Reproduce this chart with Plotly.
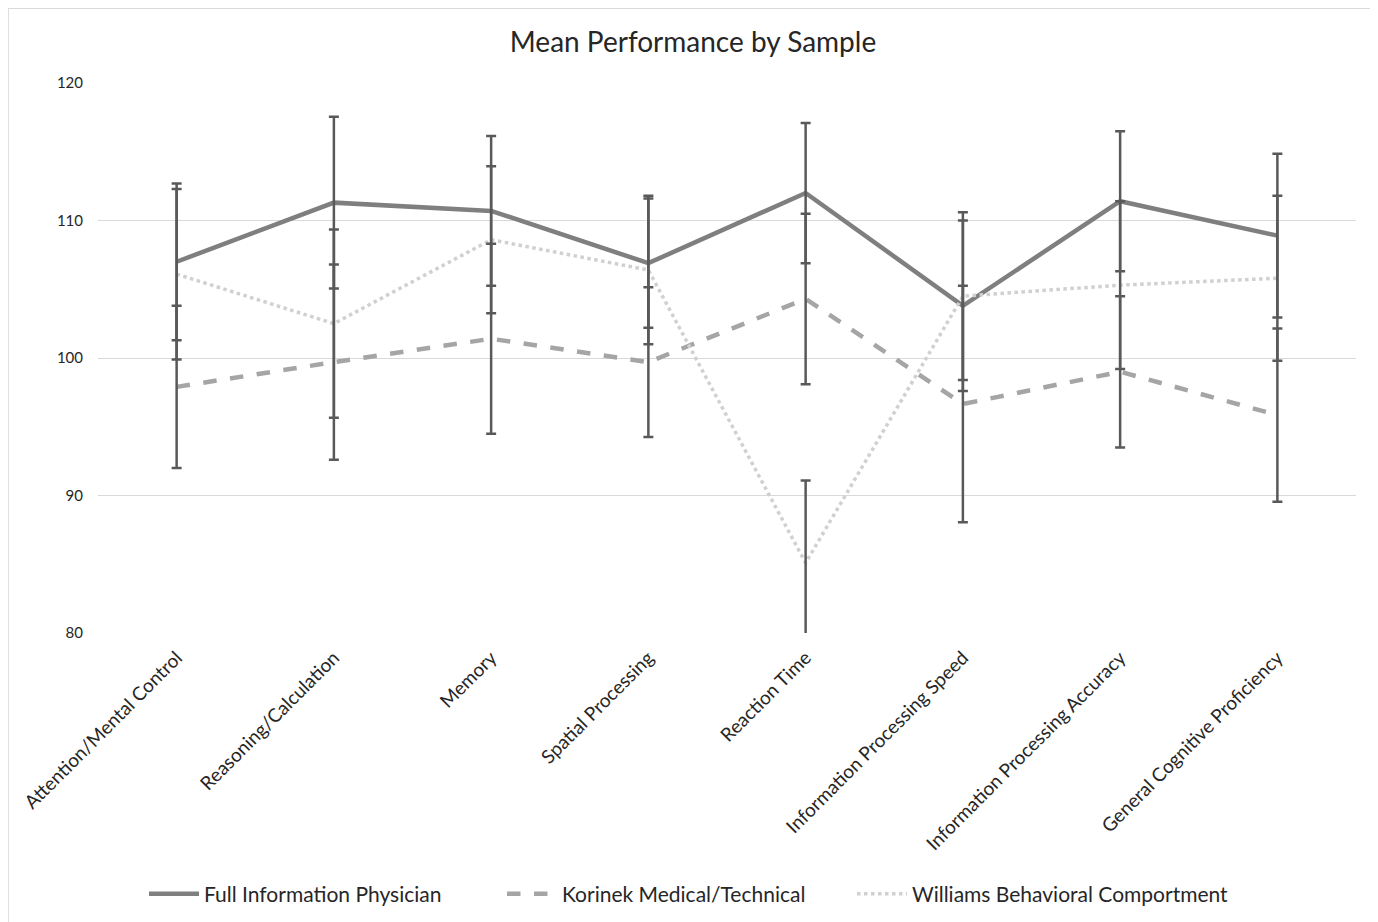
import plotly.graph_objects as go

categories = ["Attention/Mental Control", "Reasoning/Calculation", "Memory",
              "Spatial Processing", "Reaction Time", "Information Processing Speed",
              "Information Processing Accuracy", "General Cognitive Proficiency"]

full_mean = [107.0, 111.3, 110.7, 106.9, 112.0, 103.8, 111.4, 108.9]
full_err = [5.7, 6.25, 5.45, 4.7, 5.1, 6.2, 5.1, 5.95]

korinek_mean = [97.9, 99.7, 101.4, 99.7, 104.3, 96.65, 99.0, 95.85]
korinek_err = [5.9, 7.1, 6.9, 5.45, 6.2, 8.6, 5.5, 6.3]

williams_mean = [106.1, 102.5, 108.6, 106.4, 85.1, 104.5, 105.3, 105.8]
williams_err = [6.2, 6.85, 5.35, 5.4, 6.0, 6.1, 6.1, 6.0]

series = [
    ("Full Information Physician", full_mean, full_err, "#7f7f7f", "solid", 4.5, "legend"),
    ("Korinek Medical/Technical", korinek_mean, korinek_err, "#a5a5a5", "dash", 4.5, "legend2"),
    ("Williams Behavioral Comportment", williams_mean, williams_err, "#d0d0d0", "dot", 3.5, "legend3"),
]

FONT = "Lato, Carlito, 'Open Sans', sans-serif"

fig = go.Figure()
for name, mean, err, color, dash, w, lg in series:
    fig.add_trace(go.Scatter(
        x=categories, y=mean, name=name, mode="lines",
        line=dict(color=color, width=w, dash=dash),
        cliponaxis=True, legend=lg,
    ))
for name, mean, err, color, dash, w, lg in series:
    fig.add_trace(go.Scatter(
        x=categories, y=mean, mode="markers", showlegend=False,
        marker=dict(size=1, color="rgba(0,0,0,0)"),
        error_y=dict(type="data", array=err, visible=True,
                     color="#595959", thickness=2.5, width=5),
        hoverinfo="skip",
    ))

W, H = 1370, 914


def leg(xpx):
    return dict(orientation="h", xref="container", yref="container",
                x=xpx / W, xanchor="left", y=1 - 886 / H, yanchor="middle",
                font=dict(size=21, color="#262626", family=FONT),
                itemwidth=50, bgcolor="rgba(0,0,0,0)")


fig.update_layout(
    width=W, height=H,
    paper_bgcolor="white", plot_bgcolor="white",
    margin=dict(l=90, r=22, t=75, b=289),
    font=dict(family=FONT, color="#262626"),
    title=dict(text="Mean Performance by Sample", x=0.5, xanchor="center",
               y=1 - 34 / H, yanchor="middle",
               font=dict(size=28, color="#262626", family=FONT)),
    showlegend=True,
    legend=leg(136), legend2=leg(494), legend3=leg(844),
    xaxis=dict(type="category", showgrid=False, showline=False, zeroline=False,
               tickangle=-45, tickfont=dict(size=19, color="#262626"),
               ticks="", range=[-0.5, 7.5], ticklabelstandoff=9, automargin=False),
    yaxis=dict(range=[80, 120], dtick=10, showgrid=True, gridcolor="#d9d9d9",
               gridwidth=1, zeroline=False, showline=False,
               tickfont=dict(size=15, color="#262626"), ticks="",
               ticklabelstandoff=14, automargin=False),
    shapes=[dict(type="rect", xref="paper", yref="paper",
                 x0=-0.0715, x1=1.0167, y0=-0.545, y1=1.136,
                 line=dict(color="#d9d9d9", width=1.5), layer="below")],
)

fig.write_html("out.html")
